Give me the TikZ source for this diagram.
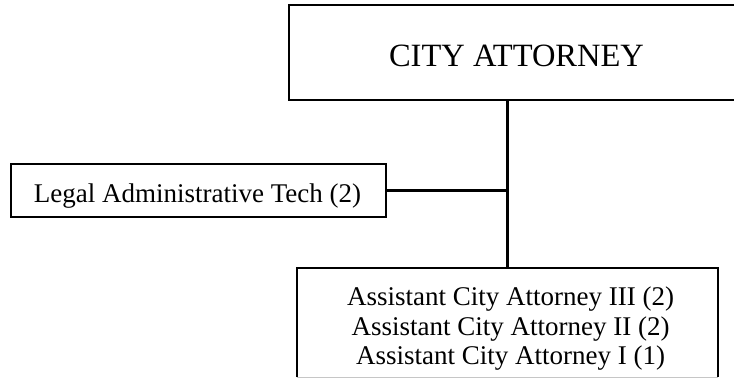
\documentclass[tikz,border=0pt]{standalone}
\usepackage{fontspec}
\setmainfont{Liberation Serif}
\begin{document}
\begin{tikzpicture}[x=1pt,y=-1pt,
  boxline/.style={line width=2.2pt},
  conn/.style={line width=2.3pt},
  txt/.style={inner sep=0pt, anchor=base},
  big/.style={font=\fontsize{32.5}{36}\selectfont},
  mid/.style={font=\fontsize{27}{30}\selectfont}]
\useasboundingbox (0,0) rectangle (734,381);
\clip (0,0) rectangle (734,381);
% top box (runs off the right edge)
\node[boxline, draw, minimum width=450pt, minimum height=95pt, inner sep=0pt] (top) at (514,52.5) {};
\node[txt, big] (toptxt) at (516.5,66) {CITY ATTORNEY};
% legal box
\node[boxline, draw, minimum width=375pt, minimum height=53pt, inner sep=0pt] (legal) at (198.5,190.5) {};
\node[txt, mid] (legaltxt) at (197.5,202) {Legal Administrative Tech (2)};
% assistant box (bottom edge faint)
\node[minimum width=421pt, minimum height=109pt, inner sep=0pt] (asst) at (507.5,322.5) {};
\draw[boxline] (asst.south west) -- (asst.north west) -- (asst.north east) -- (asst.south east);
\draw[gray!45, line width=0.8pt] (asst.south west) -- (asst.south east);
\node[txt, mid] (as1) at (510.5,305) {Assistant City Attorney III (2)};
\node[txt, mid] (as2) at (510.5,335) {Assistant City Attorney II (2)};
\node[txt, mid] (as3) at (510.5,364.5) {Assistant City Attorney I (1)};
% connectors
\coordinate (j) at (asst.north |- legal.east);
\draw[conn] (asst.north |- top.south) -- (asst.north);
\draw[conn] (legal.east) -- (j);
\end{tikzpicture}
\end{document}
